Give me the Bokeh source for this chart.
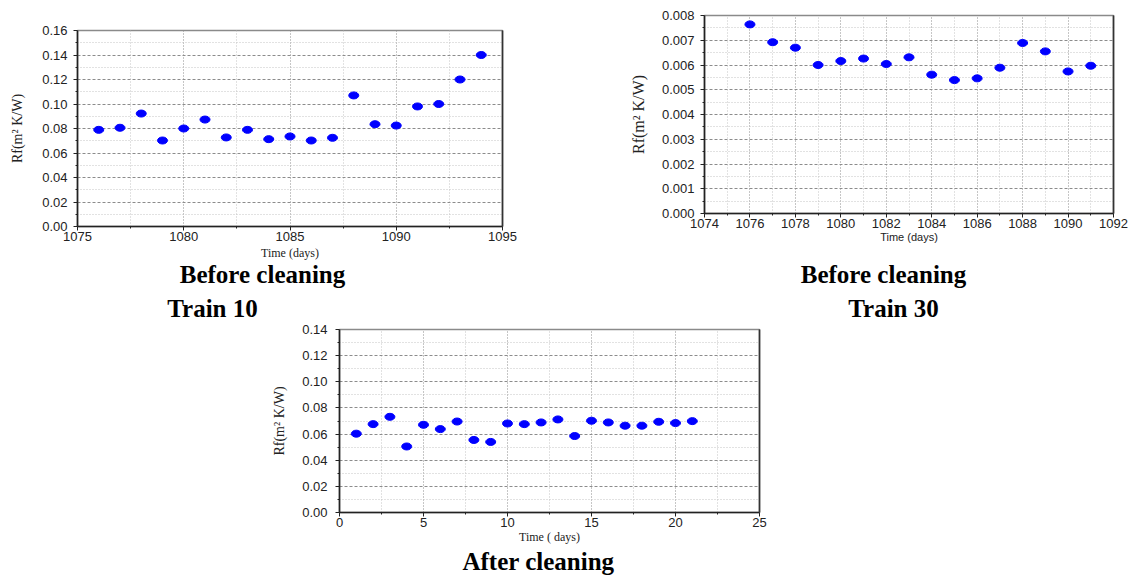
from bokeh.plotting import figure
from bokeh.models import (ColumnDataSource, FixedTicker, PrintfTickFormatter,
                          LinearAxis, Range1d, Spacer)
from bokeh.layouts import column, row
from bokeh.core.properties import value
from bokeh.embed import file_html
from bokeh.resources import INLINE

# ---------------- data ----------------
t10_days = list(range(1076, 1095))
t10_rf = [0.0789, 0.0806, 0.0922, 0.0702, 0.0800, 0.0873, 0.0727, 0.0789, 0.0713, 0.0735,
          0.0702, 0.0724, 0.1070, 0.0835, 0.0824, 0.0980, 0.1000, 0.1200, 0.1400]

t30_days = list(range(1076, 1092))
t30_rf = [0.00764, 0.00692, 0.00670, 0.00600, 0.00616, 0.00626, 0.00604, 0.00631,
          0.00561, 0.00539, 0.00546, 0.00589, 0.00689, 0.00655, 0.00574, 0.00597]

after_days = list(range(1, 22))
after_rf = [0.0603, 0.0676, 0.0732, 0.0505, 0.0671, 0.0638, 0.0696, 0.0555, 0.0540, 0.0681,
            0.0676, 0.0689, 0.0712, 0.0585, 0.0702, 0.0689, 0.0664, 0.0664, 0.0694, 0.0684,
            0.0699]

t10_xticks = [1075, 1080, 1085, 1090, 1095]
t10_xminor = [1077.5, 1082.5, 1087.5, 1092.5]
t10_yticks = [0.00, 0.02, 0.04, 0.06, 0.08, 0.10, 0.12, 0.14, 0.16]
t10_yminor = [0.01, 0.03, 0.05, 0.07, 0.09, 0.11, 0.13, 0.15]

t30_xticks = [1074, 1076, 1078, 1080, 1082, 1084, 1086, 1088, 1090, 1092]
t30_xminor = [1075, 1077, 1079, 1081, 1083, 1085, 1087, 1089, 1091]
t30_yticks = [0.000, 0.001, 0.002, 0.003, 0.004, 0.005, 0.006, 0.007, 0.008]
t30_yminor = [0.0005, 0.0015, 0.0025, 0.0035, 0.0045, 0.0055, 0.0065, 0.0075]

af_xticks = [0, 5, 10, 15, 20, 25]
af_xminor = [2.5, 7.5, 12.5, 17.5, 22.5]
af_yticks = [0.00, 0.02, 0.04, 0.06, 0.08, 0.10, 0.12, 0.14]
af_yminor = [0.01, 0.03, 0.05, 0.07, 0.09, 0.11, 0.13]

ylab = "Rf(m\u00b2 K/W)"
xlab_t10 = "Time (days)"
xlab_t30 = "Time (days)"
xlab_af = "Time ( days)"
captions_t10 = ["Before cleaning", "Train 10"]
captions_t30 = ["Before cleaning", "Train 30"]
captions_af = ["After cleaning"]

SERIF = "Liberation Serif"
SANS = "Liberation Sans"


def make_chart(days, rf, xr, yr, xt, xm, yt, ym, yfmt, width, height,
               ml, mr, mt, mb, ylabel, ylabel_size, tick_standoff_y, ylabel_standoff,
               xlabel, xlabel_font, xlabel_size, xlabel_standoff):
    p = figure(width=width, height=height, x_range=Range1d(*xr), y_range=Range1d(*yr),
               output_backend="svg", toolbar_location=None, title=None,
               min_border_left=ml, min_border_right=mr, min_border_top=mt,
               min_border_bottom=mb)
    p.outline_line_color = "#8a8a8a"
    p.outline_line_width = 1.5
    p.background_fill_color = "white"
    p.border_fill_color = "white"

    xa = p.xaxis[0]
    ya = p.yaxis[0]
    xa.ticker = FixedTicker(ticks=xt, minor_ticks=xm)
    ya.ticker = FixedTicker(ticks=yt, minor_ticks=ym)
    ya.formatter = PrintfTickFormatter(format=yfmt)
    for a in (xa, ya):
        a.axis_line_color = "#222222"
        a.axis_line_width = 1.6
        a.major_tick_line_color = "#222222"
        a.minor_tick_line_color = "#222222"
        a.major_tick_out = 4
        a.major_tick_in = 0
        a.minor_tick_out = 2
        a.minor_tick_in = 0
        a.major_label_text_font = SANS
        a.major_label_text_font_size = "13px"
        a.major_label_text_color = "#222222"
    xa.major_label_standoff = 1
    ya.major_label_standoff = tick_standoff_y
    ya.axis_label = ylabel
    ya.axis_label_text_font = SERIF
    ya.axis_label_text_font_style = "normal"
    ya.axis_label_text_font_size = ylabel_size
    ya.axis_label_standoff = ylabel_standoff
    xa.axis_label = xlabel
    xa.axis_label_text_font = xlabel_font
    xa.axis_label_text_font_style = "normal"
    xa.axis_label_text_font_size = xlabel_size
    xa.axis_label_standoff = xlabel_standoff
    xa.axis_label_text_color = "#222222"
    ya.axis_label_text_color = "#222222"

    ra = LinearAxis(ticker=FixedTicker(ticks=[]), axis_line_color="#333333",
                    axis_line_width=1.6, major_label_text_font_size="0px",
                    major_label_standoff=0, major_tick_out=0, minor_tick_out=0)
    p.add_layout(ra, "right")

    p.xgrid.ticker = FixedTicker(ticks=xt, minor_ticks=xm)
    p.ygrid.ticker = FixedTicker(ticks=yt, minor_ticks=ym)
    p.xgrid.grid_line_color = "#8c8c8c"
    p.xgrid.grid_line_dash = "1 2"
    p.xgrid.minor_grid_line_color = "#c4c4c4"
    p.xgrid.minor_grid_line_dash = "1 2"
    p.ygrid.grid_line_color = "#8c8c8c"
    p.ygrid.grid_line_dash = "3 2"
    p.ygrid.minor_grid_line_color = "#c4c4c4"
    p.ygrid.minor_grid_line_dash = "1 2"

    src = ColumnDataSource(dict(x=days, y=rf))
    p.ellipse(x="x", y="y", width=10, height=7, width_units="screen",
              height_units="screen", source=src, fill_color="#0000ff",
              line_color="#0000ff")
    return p


def caption_panel(width, height, ml, mr, texts, xs, ys, sizes):
    # blank panel whose frame lines up with the chart above; ranges are in pixels
    c = figure(width=width, height=height, x_range=Range1d(ml, width - mr),
               y_range=Range1d(height, 0), output_backend="svg",
               toolbar_location=None, title=None, x_axis_type=None, y_axis_type=None,
               min_border_left=ml, min_border_right=mr, min_border_top=0,
               min_border_bottom=0, outline_line_color=None)
    c.xgrid.visible = False
    c.ygrid.visible = False
    for t, x, y, s in zip(texts, xs, ys, sizes):
        c.text(x=[x], y=[y], text=[t], text_align="center", text_baseline="alphabetic",
               text_font=value(SERIF), text_font_size=s, text_font_style="bold",
               text_color="#000000")
    return c


# Train 10 (before cleaning)
p1 = make_chart(t10_days, t10_rf, (1075, 1095), (0, 0.16), t10_xticks, t10_xminor,
                t10_yticks, t10_yminor, "%.2f", 600, 262, 77, 98, 30, 36,
                ylab, "14px", 6, 14, xlab_t10, SERIF, "12px", 2)
c1 = caption_panel(600, 61, 77, 98, captions_t10, [262, 212], [12, 46], ["25px", "25px"])

# Train 30 (before cleaning)
p2 = make_chart(t30_days, t30_rf, (1074, 1092), (0, 0.008), t30_xticks, t30_xminor,
                t30_yticks, t30_yminor, "%.3f", 530, 246, 104, 17, 15, 33,
                ylab, "16px", 6, 12, xlab_t30, SANS, "11px", 0)
c2 = caption_panel(530, 77, 104, 17, captions_t30, [283, 293], [28, 62], ["25px", "25px"])

# After cleaning
p3 = make_chart(after_days, after_rf, (0, 25), (0, 0.14), af_xticks, af_xminor,
                af_yticks, af_yminor, "%.2f", 520, 223, 79, 21, 6, 32,
                ylab, "14px", 8, 12, xlab_af, SERIF, "12px", 0)
c3 = caption_panel(520, 30, 79, 21, captions_af, [278], [15], ["25px"])

layout = column(row(column(p1, c1), column(p2, c2)),
                row(Spacer(width=260, height=253), column(p3, c3)))

with open("out.html", "w") as f:
    f.write(file_html(layout, INLINE))
